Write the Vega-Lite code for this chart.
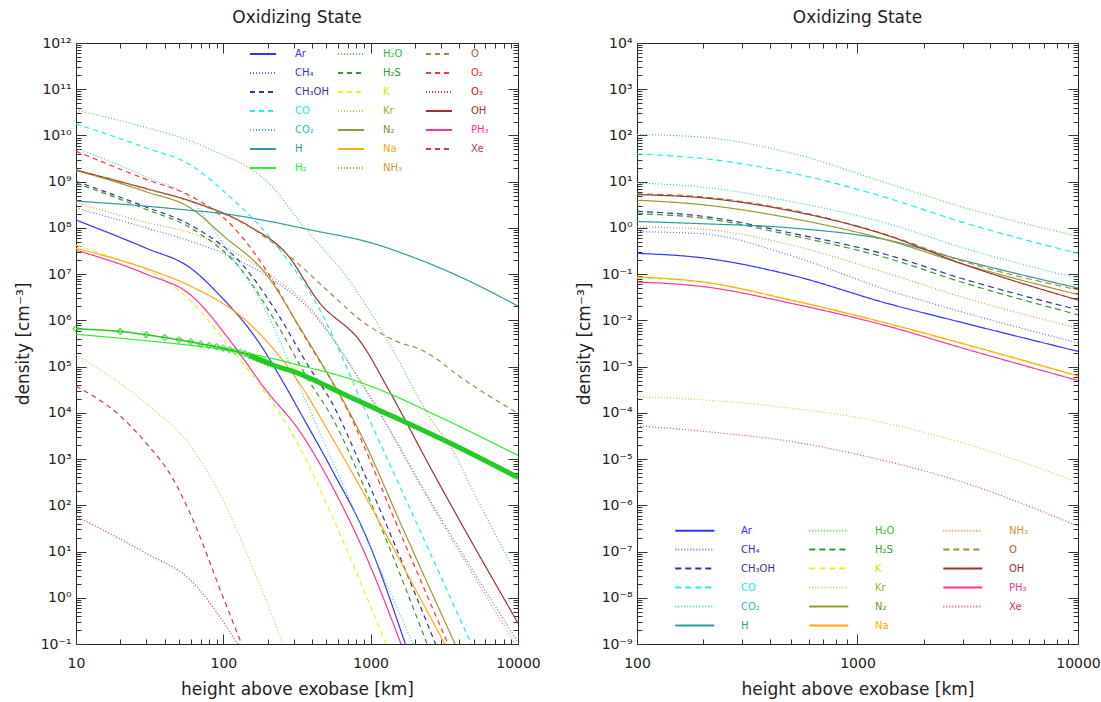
{
  "$schema": "https://vega.github.io/schema/vega-lite/v6.json",
  "background": "white",
  "padding": {"left": 13, "top": 8, "right": 5, "bottom": 5},
  "config": {
    "view": {"stroke": "#222", "strokeWidth": 1},
    "font": "DejaVu Sans",
    "axis": {"domain": false, "grid": false, "tickColor": "#333", "tickWidth": 1, "labelFont": "DejaVu Sans", "labelFontSize": 14, "labelColor": "#222", "titleFont": "DejaVu Sans", "titleFontSize": 17, "titleFontWeight": "normal", "titleColor": "#222", "labelOverlap": false, "labelFlush": false},
    "title": {"font": "DejaVu Sans", "fontSize": 17, "fontWeight": "normal", "color": "#222"}
  },
  "datasets": {
    "left": [
      {"species": "Ar", "x": 10, "y": 1.48e8}, {"species": "Ar", "x": 30, "y": 3.63e7}, {"species": "Ar", "x": 60, "y": 1.35e7}, {"species": "Ar", "x": 94, "y": 3.55e6}, {"species": "Ar", "x": 167, "y": 4.07e5}, {"species": "Ar", "x": 267, "y": 3.55e4}, {"species": "Ar", "x": 327, "y": 1.12e4}, {"species": "Ar", "x": 548, "y": 575}, {"species": "Ar", "x": 930, "y": 21.4}, {"species": "Ar", "x": 1740, "y": 0.089},
      {"species": "CH₄", "x": 10, "y": 2.69e8}, {"species": "CH₄", "x": 30, "y": 1.0e8}, {"species": "CH₄", "x": 60, "y": 5.13e7}, {"species": "CH₄", "x": 100, "y": 2.82e7}, {"species": "CH₄", "x": 200, "y": 8.91e6}, {"species": "CH₄", "x": 380, "y": 1.78e6}, {"species": "CH₄", "x": 930, "y": 3.16e4}, {"species": "CH₄", "x": 2600, "y": 110}, {"species": "CH₄", "x": 10000, "y": 0.11},
      {"species": "NH₃", "x": 10, "y": 3.47e8}, {"species": "NH₃", "x": 30, "y": 1.32e8}, {"species": "NH₃", "x": 60, "y": 7.76e7}, {"species": "NH₃", "x": 100, "y": 3.98e7}, {"species": "NH₃", "x": 200, "y": 1.05e7}, {"species": "NH₃", "x": 380, "y": 2.0e6}, {"species": "NH₃", "x": 930, "y": 3.02e4}, {"species": "NH₃", "x": 2600, "y": 100}, {"species": "NH₃", "x": 10000, "y": 0.079},
      {"species": "CH₃OH", "x": 10, "y": 1.02e9}, {"species": "CH₃OH", "x": 30, "y": 2.82e8}, {"species": "CH₃OH", "x": 60, "y": 1.15e8}, {"species": "CH₃OH", "x": 136, "y": 1.55e7}, {"species": "CH₃OH", "x": 228, "y": 1.58e6}, {"species": "CH₃OH", "x": 380, "y": 1.0e5}, {"species": "CH₃OH", "x": 548, "y": 1.62e4}, {"species": "CH₃OH", "x": 930, "y": 398}, {"species": "CH₃OH", "x": 2800, "y": 0.089},
      {"species": "H₂S", "x": 10, "y": 9.33e8}, {"species": "H₂S", "x": 30, "y": 2.51e8}, {"species": "H₂S", "x": 60, "y": 1.0e8}, {"species": "H₂S", "x": 136, "y": 1.12e7}, {"species": "H₂S", "x": 228, "y": 8.91e5}, {"species": "H₂S", "x": 380, "y": 5.01e4}, {"species": "H₂S", "x": 548, "y": 7.94e3}, {"species": "H₂S", "x": 930, "y": 200}, {"species": "H₂S", "x": 2450, "y": 0.089},
      {"species": "CO", "x": 10, "y": 1.78e10}, {"species": "CO", "x": 30, "y": 5.37e9}, {"species": "CO", "x": 60, "y": 2.29e9}, {"species": "CO", "x": 100, "y": 6.31e8}, {"species": "CO", "x": 228, "y": 4.27e7}, {"species": "CO", "x": 427, "y": 2.34e6}, {"species": "CO", "x": 1000, "y": 6.17e3}, {"species": "CO", "x": 2000, "y": 49}, {"species": "CO", "x": 4900, "y": 0.089},
      {"species": "CO₂", "x": 10, "y": 5.37e9}, {"species": "CO₂", "x": 30, "y": 1.26e9}, {"species": "CO₂", "x": 60, "y": 4.17e8}, {"species": "CO₂", "x": 104, "y": 3.63e7}, {"species": "CO₂", "x": 186, "y": 2.14e6}, {"species": "CO₂", "x": 327, "y": 3.8e4}, {"species": "CO₂", "x": 930, "y": 20.4}, {"species": "CO₂", "x": 1970, "y": 0.089},
      {"species": "O₂", "x": 10, "y": 4.57e9}, {"species": "O₂", "x": 30, "y": 1.12e9}, {"species": "O₂", "x": 60, "y": 4.9e8}, {"species": "O₂", "x": 115, "y": 1.1e8}, {"species": "O₂", "x": 195, "y": 1.23e7}, {"species": "O₂", "x": 327, "y": 7.08e5}, {"species": "O₂", "x": 713, "y": 9.77e3}, {"species": "O₂", "x": 1560, "y": 28.8}, {"species": "O₂", "x": 3400, "y": 0.089},
      {"species": "O₃", "x": 10, "y": 57.5}, {"species": "O₃", "x": 30, "y": 9.12}, {"species": "O₃", "x": 60, "y": 2.4}, {"species": "O₃", "x": 128, "y": 0.089},
      {"species": "Xe", "x": 10, "y": 3.8e4}, {"species": "Xe", "x": 20, "y": 8.51e3}, {"species": "Xe", "x": 30, "y": 2.19e3}, {"species": "Xe", "x": 45, "y": 398}, {"species": "Xe", "x": 60, "y": 63}, {"species": "Xe", "x": 100, "y": 1.0}, {"species": "Xe", "x": 135, "y": 0.089},
      {"species": "Kr", "x": 10, "y": 1.78e5}, {"species": "Kr", "x": 30, "y": 1.58e4}, {"species": "Kr", "x": 60, "y": 1.91e3}, {"species": "Kr", "x": 100, "y": 126}, {"species": "Kr", "x": 175, "y": 2.04}, {"species": "Kr", "x": 258, "y": 0.089},
      {"species": "K", "x": 10, "y": 4.27e7}, {"species": "K", "x": 20, "y": 2.0e7}, {"species": "K", "x": 30, "y": 1.26e7}, {"species": "K", "x": 60, "y": 2.63e6}, {"species": "K", "x": 115, "y": 2.24e5}, {"species": "K", "x": 195, "y": 2.63e4}, {"species": "K", "x": 327, "y": 1.91e3}, {"species": "K", "x": 548, "y": 57.5}, {"species": "K", "x": 1290, "y": 0.089},
      {"species": "Na", "x": 10, "y": 3.63e7}, {"species": "Na", "x": 30, "y": 1.32e7}, {"species": "Na", "x": 60, "y": 5.5e6}, {"species": "Na", "x": 149, "y": 8.71e5}, {"species": "Na", "x": 327, "y": 4.47e4}, {"species": "Na", "x": 548, "y": 2.88e3}, {"species": "Na", "x": 930, "y": 148}, {"species": "Na", "x": 1560, "y": 6.92}, {"species": "Na", "x": 3250, "y": 0.089},
      {"species": "PH₃", "x": 10, "y": 3.31e7}, {"species": "PH₃", "x": 30, "y": 1.0e7}, {"species": "PH₃", "x": 60, "y": 3.55e6}, {"species": "PH₃", "x": 115, "y": 3.16e5}, {"species": "PH₃", "x": 195, "y": 3.09e4}, {"species": "PH₃", "x": 327, "y": 4.17e3}, {"species": "PH₃", "x": 548, "y": 257}, {"species": "PH₃", "x": 930, "y": 7.94}, {"species": "PH₃", "x": 1630, "y": 0.089},
      {"species": "N₂", "x": 10, "y": 1.78e9}, {"species": "N₂", "x": 30, "y": 6.03e8}, {"species": "N₂", "x": 60, "y": 2.69e8}, {"species": "N₂", "x": 100, "y": 6.76e7}, {"species": "N₂", "x": 195, "y": 1.0e7}, {"species": "N₂", "x": 327, "y": 7.41e5}, {"species": "N₂", "x": 930, "y": 2.0e3}, {"species": "N₂", "x": 1560, "y": 47.9}, {"species": "N₂", "x": 3800, "y": 0.089},
      {"species": "OH", "x": 10, "y": 1.78e9}, {"species": "OH", "x": 30, "y": 7.08e8}, {"species": "OH", "x": 60, "y": 3.8e8}, {"species": "OH", "x": 149, "y": 1.1e8}, {"species": "OH", "x": 267, "y": 2.82e7}, {"species": "OH", "x": 445, "y": 2.51e6}, {"species": "OH", "x": 870, "y": 3.16e5}, {"species": "OH", "x": 1330, "y": 3.09e4}, {"species": "OH", "x": 2610, "y": 562}, {"species": "OH", "x": 10000, "y": 0.282},
      {"species": "O", "x": 10, "y": 1.74e9}, {"species": "O", "x": 30, "y": 6.92e8}, {"species": "O", "x": 60, "y": 3.72e8}, {"species": "O", "x": 149, "y": 1.07e8}, {"species": "O", "x": 267, "y": 2.82e7}, {"species": "O", "x": 548, "y": 3.55e6}, {"species": "O", "x": 900, "y": 8.91e5}, {"species": "O", "x": 1270, "y": 4.57e5}, {"species": "O", "x": 1630, "y": 3.16e5}, {"species": "O", "x": 2000, "y": 2.63e5}, {"species": "O", "x": 2610, "y": 1.7e5}, {"species": "O", "x": 4000, "y": 6.17e4}, {"species": "O", "x": 10000, "y": 9.77e3},
      {"species": "H", "x": 10, "y": 3.8e8}, {"species": "H", "x": 30, "y": 2.95e8}, {"species": "H", "x": 60, "y": 2.4e8}, {"species": "H", "x": 100, "y": 2.04e8}, {"species": "H", "x": 200, "y": 1.41e8}, {"species": "H", "x": 400, "y": 8.91e7}, {"species": "H", "x": 1000, "y": 4.79e7}, {"species": "H", "x": 2000, "y": 2.24e7}, {"species": "H", "x": 4000, "y": 8.91e6}, {"species": "H", "x": 10000, "y": 2.04e6},
      {"species": "H₂", "x": 10, "y": 5.01e5}, {"species": "H₂", "x": 30, "y": 3.63e5}, {"species": "H₂", "x": 60, "y": 2.88e5}, {"species": "H₂", "x": 100, "y": 2.34e5}, {"species": "H₂", "x": 200, "y": 1.58e5}, {"species": "H₂", "x": 327, "y": 1.07e5}, {"species": "H₂", "x": 700, "y": 5.62e4}, {"species": "H₂", "x": 1330, "y": 2.63e4}, {"species": "H₂", "x": 2610, "y": 9.77e3}, {"species": "H₂", "x": 10000, "y": 1.2e3},
      {"species": "H₂O", "x": 10, "y": 3.55e10}, {"species": "H₂O", "x": 30, "y": 1.48e10}, {"species": "H₂O", "x": 60, "y": 7.59e9}, {"species": "H₂O", "x": 84, "y": 4.79e9}, {"species": "H₂O", "x": 214, "y": 7.94e8}, {"species": "H₂O", "x": 327, "y": 1.41e8}, {"species": "H₂O", "x": 713, "y": 7.41e6}, {"species": "H₂O", "x": 1334, "y": 3.24e5}, {"species": "H₂O", "x": 2490, "y": 8.51e3}, {"species": "H₂O", "x": 3800, "y": 1.15e3}, {"species": "H₂O", "x": 4660, "y": 302}, {"species": "H₂O", "x": 10000, "y": 2.88}
    ],
    "obs": [
      {"x": 10, "y": 6.61e5}, {"x": 20, "y": 5.75e5}, {"x": 30, "y": 4.9e5}, {"x": 40, "y": 4.27e5}, {"x": 50, "y": 3.8e5}, {"x": 60, "y": 3.47e5}, {"x": 70, "y": 3.09e5}, {"x": 80, "y": 2.88e5}, {"x": 90, "y": 2.69e5}, {"x": 100, "y": 2.51e5}, {"x": 110, "y": 2.34e5}, {"x": 120, "y": 2.19e5}, {"x": 130, "y": 2.04e5}, {"x": 140, "y": 1.91e5}, {"x": 150, "y": 1.74e5}, {"x": 160, "y": 1.6e5}, {"x": 170, "y": 1.48e5}, {"x": 180, "y": 1.38e5}, {"x": 190, "y": 1.29e5}, {"x": 200, "y": 1.2e5}, {"x": 327, "y": 7.08e4}, {"x": 640, "y": 2.63e4}, {"x": 1000, "y": 1.38e4}, {"x": 1560, "y": 7.24e3}, {"x": 3650, "y": 2.04e3}, {"x": 10000, "y": 398}
    ],
    "right": [
      {"species": "Ar", "x": 100, "y": 0.282}, {"species": "Ar", "x": 200, "y": 0.224}, {"species": "Ar", "x": 500, "y": 0.0955}, {"species": "Ar", "x": 1360, "y": 0.0234}, {"species": "Ar", "x": 3000, "y": 8.91e-3}, {"species": "Ar", "x": 10000, "y": 2.14e-3},
      {"species": "CH₄", "x": 100, "y": 0.832}, {"species": "CH₄", "x": 200, "y": 0.741}, {"species": "CH₄", "x": 500, "y": 0.251}, {"species": "CH₄", "x": 1360, "y": 0.0457}, {"species": "CH₄", "x": 3000, "y": 0.0151}, {"species": "CH₄", "x": 10000, "y": 3.24e-3},
      {"species": "CH₃OH", "x": 100, "y": 2.29}, {"species": "CH₃OH", "x": 200, "y": 1.78}, {"species": "CH₃OH", "x": 500, "y": 0.776}, {"species": "CH₃OH", "x": 1360, "y": 0.263}, {"species": "CH₃OH", "x": 3000, "y": 0.0794}, {"species": "CH₃OH", "x": 10000, "y": 0.017},
      {"species": "H₂S", "x": 100, "y": 2.04}, {"species": "H₂S", "x": 200, "y": 1.62}, {"species": "H₂S", "x": 500, "y": 0.692}, {"species": "H₂S", "x": 1360, "y": 0.224}, {"species": "H₂S", "x": 3000, "y": 0.0661}, {"species": "H₂S", "x": 10000, "y": 0.0132},
      {"species": "CO", "x": 100, "y": 39.8}, {"species": "CO", "x": 200, "y": 31.6}, {"species": "CO", "x": 500, "y": 15.5}, {"species": "CO", "x": 1360, "y": 4.47}, {"species": "CO", "x": 3000, "y": 1.32}, {"species": "CO", "x": 10000, "y": 0.282},
      {"species": "CO₂", "x": 100, "y": 9.33}, {"species": "CO₂", "x": 200, "y": 7.59}, {"species": "CO₂", "x": 500, "y": 3.72}, {"species": "CO₂", "x": 1360, "y": 1.26}, {"species": "CO₂", "x": 3000, "y": 0.372}, {"species": "CO₂", "x": 10000, "y": 0.0813},
      {"species": "H", "x": 100, "y": 1.38}, {"species": "H", "x": 200, "y": 1.23}, {"species": "H", "x": 500, "y": 1.0}, {"species": "H", "x": 1360, "y": 0.55}, {"species": "H", "x": 3000, "y": 0.2}, {"species": "H", "x": 10000, "y": 0.0501},
      {"species": "H₂O", "x": 100, "y": 105}, {"species": "H₂O", "x": 200, "y": 91.2}, {"species": "H₂O", "x": 500, "y": 41.7}, {"species": "H₂O", "x": 1360, "y": 9.33}, {"species": "H₂O", "x": 3000, "y": 2.82}, {"species": "H₂O", "x": 10000, "y": 0.661},
      {"species": "K", "x": 100, "y": 0.0832}, {"species": "K", "x": 200, "y": 0.0661}, {"species": "K", "x": 500, "y": 0.0275}, {"species": "K", "x": 1360, "y": 8.51e-3}, {"species": "K", "x": 3000, "y": 3.09e-3}, {"species": "K", "x": 10000, "y": 6.17e-4},
      {"species": "Kr", "x": 100, "y": 2.24e-4}, {"species": "Kr", "x": 200, "y": 1.91e-4}, {"species": "Kr", "x": 500, "y": 1.26e-4}, {"species": "Kr", "x": 1000, "y": 7.94e-5}, {"species": "Kr", "x": 3000, "y": 2.24e-5}, {"species": "Kr", "x": 10000, "y": 3.16e-6},
      {"species": "Xe", "x": 100, "y": 5.25e-5}, {"species": "Xe", "x": 200, "y": 3.98e-5}, {"species": "Xe", "x": 500, "y": 2.4e-5}, {"species": "Xe", "x": 1000, "y": 1.26e-5}, {"species": "Xe", "x": 3000, "y": 3.16e-6}, {"species": "Xe", "x": 10000, "y": 3.55e-7},
      {"species": "N₂", "x": 100, "y": 3.98}, {"species": "N₂", "x": 200, "y": 3.16}, {"species": "N₂", "x": 500, "y": 1.62}, {"species": "N₂", "x": 1360, "y": 0.55}, {"species": "N₂", "x": 3000, "y": 0.166}, {"species": "N₂", "x": 10000, "y": 0.0363},
      {"species": "Na", "x": 100, "y": 0.0871}, {"species": "Na", "x": 200, "y": 0.0676}, {"species": "Na", "x": 500, "y": 0.0275}, {"species": "Na", "x": 1360, "y": 8.71e-3}, {"species": "Na", "x": 3000, "y": 3.16e-3}, {"species": "Na", "x": 10000, "y": 6.31e-4},
      {"species": "NH₃", "x": 100, "y": 1.05}, {"species": "NH₃", "x": 200, "y": 0.933}, {"species": "NH₃", "x": 500, "y": 0.427}, {"species": "NH₃", "x": 1360, "y": 0.105}, {"species": "NH₃", "x": 3000, "y": 0.0316}, {"species": "NH₃", "x": 10000, "y": 6.76e-3},
      {"species": "O", "x": 100, "y": 5.5}, {"species": "O", "x": 200, "y": 4.68}, {"species": "O", "x": 500, "y": 2.45}, {"species": "O", "x": 1360, "y": 0.708}, {"species": "O", "x": 3000, "y": 0.191}, {"species": "O", "x": 10000, "y": 0.0457},
      {"species": "OH", "x": 100, "y": 5.25}, {"species": "OH", "x": 200, "y": 4.47}, {"species": "OH", "x": 500, "y": 2.34}, {"species": "OH", "x": 1360, "y": 0.692}, {"species": "OH", "x": 3000, "y": 0.166}, {"species": "OH", "x": 10000, "y": 0.0275},
      {"species": "PH₃", "x": 100, "y": 0.0676}, {"species": "PH₃", "x": 200, "y": 0.0537}, {"species": "PH₃", "x": 500, "y": 0.0234}, {"species": "PH₃", "x": 1360, "y": 7.59e-3}, {"species": "PH₃", "x": 3000, "y": 2.51e-3}, {"species": "PH₃", "x": 10000, "y": 5.01e-4}
    ]
  },
  "spacing": 33,
  "hconcat": [
    {
      "width": 442,
      "height": 601,
      "title": {"text": "Oxidizing State", "offset": 9},
      "resolve": {"axis": {"x": "independent", "y": "independent"}},
      "layer": [
        {
          "data": {"name": "left"},
          "mark": {"type": "line", "strokeWidth": 1.2, "clip": true, "interpolate": "monotone"},
          "encoding": {
            "x": {"field": "x", "type": "quantitative", "scale": {"type": "log", "domain": [10, 10000], "nice": false},
              "axis": {"orient": "bottom", "values": [10, 100, 1000, 10000], "format": "d", "tickSize": -10, "labelPadding": 22, "title": "height above exobase [km]", "titlePadding": 11}},
            "y": {"field": "y", "type": "quantitative", "scale": {"type": "log", "domain": [0.1, 1e12], "nice": false},
              "axis": {"orient": "left", "values": [0.1, 1, 10, 100, 1000, 1e4, 1e5, 1e6, 1e7, 1e8, 1e9, 1e10, 1e11, 1e12], "tickSize": -10, "labelPadding": 15, "title": "density [cm⁻³]", "titlePadding": 8,
                "labelExpr": "'10' + (datum.value < 1 ? '⁻' : '') + (abs(round(log(datum.value)/LN10)) >= 10 ? '¹' : '') + substring('⁰¹²³⁴⁵⁶⁷⁸⁹', abs(round(log(datum.value)/LN10)) % 10, abs(round(log(datum.value)/LN10)) % 10 + 1)"}},
            "color": {"field": "species", "type": "nominal",
              "scale": {"domain": ["Ar", "CH₄", "CH₃OH", "CO", "CO₂", "H", "H₂", "H₂O", "H₂S", "K", "Kr", "N₂", "Na", "NH₃", "O", "O₂", "O₃", "OH", "PH₃", "Xe"],
                "range": ["#3333ff", "#6a6aee", "#333399", "#22eeee", "#33cccc", "#339999", "#33ee33", "#55cc55", "#339933", "#eeee22", "#cccc44", "#999933", "#ffaa11", "#cc9944", "#aa8844", "#ff3333", "#dd3333", "#993333", "#ff3399", "#cc3377"]},
              "legend": {"title": null, "orient": "none", "legendX": 173, "legendY": -3, "columns": 3, "gridAlign": "all", "padding": 0, "symbolType": "stroke", "symbolSize": 676, "symbolStrokeWidth": 2, "labelFont": "DejaVu Sans", "labelFontSize": 10, "labelOffset": 18, "columnPadding": 5, "rowPadding": 0, "labelLimit": 0,
                "encode": {"labels": {"update": {"fill": {"signal": "datum.value==='Ar'?'#3333ff':datum.value==='CH₄'?'#3333cc':datum.value==='CH₃OH'?'#333399':datum.value==='CO'?'#11eeee':datum.value==='CO₂'?'#33bbbb':datum.value==='H'?'#339999':datum.value==='H₂'?'#22ee22':datum.value==='H₂O'?'#33bb33':datum.value==='H₂S'?'#339933':datum.value==='K'?'#dddd00':datum.value==='Kr'?'#aaaa22':datum.value==='N₂'?'#888822':datum.value==='Na'?'#ffaa00':datum.value==='NH₃'?'#cc9933':datum.value==='O'?'#996633':datum.value==='O₂'?'#ff2222':datum.value==='O₃'?'#cc2222':datum.value==='OH'?'#993333':datum.value==='PH₃'?'#ff3399':'#cc3366'"}}}}}},
            "strokeDash": {"field": "species", "type": "nominal",
              "scale": {"domain": ["Ar", "CH₄", "CH₃OH", "CO", "CO₂", "H", "H₂", "H₂O", "H₂S", "K", "Kr", "N₂", "Na", "NH₃", "O", "O₂", "O₃", "OH", "PH₃", "Xe"],
                "range": [[1, 0], [1, 2], [5, 4], [5, 4], [1, 2], [1, 0], [1, 0], [1, 2], [5, 4], [5, 4], [1, 2], [1, 0], [1, 0], [1, 2], [5, 4], [5, 4], [1, 2], [1, 0], [1, 0], [5, 4]]},
              "legend": {"title": null, "orient": "none", "legendX": 173, "legendY": -3, "columns": 3, "gridAlign": "all", "padding": 0, "symbolType": "stroke", "symbolSize": 676, "symbolStrokeWidth": 2, "labelFont": "DejaVu Sans", "labelFontSize": 10, "labelOffset": 18, "columnPadding": 5, "rowPadding": 0, "labelLimit": 0}}
          }
        },
        {
          "data": {"name": "obs"},
          "mark": {"type": "line", "color": "#22cc22", "strokeWidth": 1.6, "clip": true, "interpolate": "monotone"},
          "encoding": {
            "x": {"field": "x", "type": "quantitative", "axis": {"orient": "bottom", "values": [20, 30, 40, 50, 60, 70, 80, 90, 200, 300, 400, 500, 600, 700, 800, 900, 2000, 3000, 4000, 5000, 6000, 7000, 8000, 9000], "tickSize": -5, "labels": false, "title": null}},
            "y": {"field": "y", "type": "quantitative", "axis": {"orient": "left", "values": [0.2, 0.3, 0.4, 0.5, 0.6, 0.7, 0.8, 0.9, 2, 3, 4, 5, 6, 7, 8, 9, 20, 30, 40, 50, 60, 70, 80, 90, 200, 300, 400, 500, 600, 700, 800, 900, 2000, 3000, 4000, 5000, 6000, 7000, 8000, 9000, 2e4, 3e4, 4e4, 5e4, 6e4, 7e4, 8e4, 9e4, 2e5, 3e5, 4e5, 5e5, 6e5, 7e5, 8e5, 9e5, 2e6, 3e6, 4e6, 5e6, 6e6, 7e6, 8e6, 9e6, 2e7, 3e7, 4e7, 5e7, 6e7, 7e7, 8e7, 9e7, 2e8, 3e8, 4e8, 5e8, 6e8, 7e8, 8e8, 9e8, 2e9, 3e9, 4e9, 5e9, 6e9, 7e9, 8e9, 9e9, 2e10, 3e10, 4e10, 5e10, 6e10, 7e10, 8e10, 9e10, 2e11, 3e11, 4e11, 5e11, 6e11, 7e11, 8e11, 9e11], "tickSize": -5, "labels": false, "title": null}}
          }
        },
        {
          "data": {"name": "obs"},
          "transform": [{"filter": "datum.x >= 150"}],
          "mark": {"type": "line", "color": "#22cc22", "strokeWidth": 5, "clip": true, "interpolate": "monotone"},
          "encoding": {
            "x": {"field": "x", "type": "quantitative", "axis": {"orient": "top", "values": [10, 100, 1000, 10000], "tickSize": -10, "labels": false, "title": null}},
            "y": {"field": "y", "type": "quantitative", "axis": {"orient": "right", "values": [0.1, 1, 10, 100, 1000, 1e4, 1e5, 1e6, 1e7, 1e8, 1e9, 1e10, 1e11, 1e12], "tickSize": -10, "labels": false, "title": null}}
          }
        },
        {
          "data": {"name": "obs"},
          "transform": [{"filter": "datum.x <= 200"}],
          "mark": {"type": "point", "shape": "diamond", "size": 36, "filled": false, "color": "#22cc22", "strokeWidth": 1.3},
          "encoding": {
            "x": {"field": "x", "type": "quantitative", "axis": {"orient": "top", "values": [20, 30, 40, 50, 60, 70, 80, 90, 200, 300, 400, 500, 600, 700, 800, 900, 2000, 3000, 4000, 5000, 6000, 7000, 8000, 9000], "tickSize": -5, "labels": false, "title": null}},
            "y": {"field": "y", "type": "quantitative", "axis": {"orient": "right", "values": [0.2, 0.3, 0.4, 0.5, 0.6, 0.7, 0.8, 0.9, 2, 3, 4, 5, 6, 7, 8, 9, 20, 30, 40, 50, 60, 70, 80, 90, 200, 300, 400, 500, 600, 700, 800, 900, 2000, 3000, 4000, 5000, 6000, 7000, 8000, 9000, 2e4, 3e4, 4e4, 5e4, 6e4, 7e4, 8e4, 9e4, 2e5, 3e5, 4e5, 5e5, 6e5, 7e5, 8e5, 9e5, 2e6, 3e6, 4e6, 5e6, 6e6, 7e6, 8e6, 9e6, 2e7, 3e7, 4e7, 5e7, 6e7, 7e7, 8e7, 9e7, 2e8, 3e8, 4e8, 5e8, 6e8, 7e8, 8e8, 9e8, 2e9, 3e9, 4e9, 5e9, 6e9, 7e9, 8e9, 9e9, 2e10, 3e10, 4e10, 5e10, 6e10, 7e10, 8e10, 9e10, 2e11, 3e11, 4e11, 5e11, 6e11, 7e11, 8e11, 9e11], "tickSize": -5, "labels": false, "title": null}}
          }
        }
      ]
    },
    {
      "width": 441,
      "height": 601,
      "title": {"text": "Oxidizing State", "offset": 9},
      "resolve": {"axis": {"x": "independent", "y": "independent"}},
      "layer": [
        {
          "data": {"name": "right"},
          "mark": {"type": "line", "strokeWidth": 1.2, "clip": true, "interpolate": "monotone"},
          "encoding": {
            "x": {"field": "x", "type": "quantitative", "scale": {"type": "log", "domain": [100, 10000], "nice": false},
              "axis": {"orient": "bottom", "values": [100, 1000, 10000], "format": "d", "tickSize": -10, "labelPadding": 22, "title": "height above exobase [km]", "titlePadding": 11}},
            "y": {"field": "y", "type": "quantitative", "scale": {"type": "log", "domain": [1e-9, 1e4], "nice": false},
              "axis": {"orient": "left", "values": [1e-9, 1e-8, 1e-7, 1e-6, 1e-5, 1e-4, 1e-3, 0.01, 0.1, 1, 10, 100, 1000, 1e4], "tickSize": -10, "labelPadding": 15, "title": "density [cm⁻³]", "titlePadding": 8,
                "labelExpr": "'10' + (datum.value < 1 ? '⁻' : '') + (abs(round(log(datum.value)/LN10)) >= 10 ? '¹' : '') + substring('⁰¹²³⁴⁵⁶⁷⁸⁹', abs(round(log(datum.value)/LN10)) % 10, abs(round(log(datum.value)/LN10)) % 10 + 1)"}},
            "color": {"field": "species", "type": "nominal",
              "scale": {"domain": ["Ar", "CH₄", "CH₃OH", "CO", "CO₂", "H", "H₂O", "H₂S", "K", "Kr", "N₂", "Na", "NH₃", "O", "OH", "PH₃", "Xe"],
                "range": ["#3333ff", "#6a6aee", "#333399", "#22eeee", "#33cccc", "#339999", "#55cc55", "#339933", "#eeee22", "#cccc44", "#999933", "#ffaa11", "#cc9944", "#aa8844", "#993333", "#ff3399", "#dd4499"]},
              "legend": {"title": null, "orient": "none", "legendX": 37, "legendY": 474, "columns": 3, "gridAlign": "all", "padding": 0, "symbolType": "M-1,0H2.2", "symbolSize": 595, "symbolStrokeWidth": 2.2, "labelFont": "DejaVu Sans", "labelFontSize": 10, "labelOffset": 40, "columnPadding": 29, "rowPadding": 0, "labelLimit": 0,
                "encode": {"labels": {"update": {"fill": {"signal": "datum.value==='Ar'?'#3333ff':datum.value==='CH₄'?'#3333cc':datum.value==='CH₃OH'?'#333399':datum.value==='CO'?'#11eeee':datum.value==='CO₂'?'#33bbbb':datum.value==='H'?'#339999':datum.value==='H₂'?'#22ee22':datum.value==='H₂O'?'#33bb33':datum.value==='H₂S'?'#339933':datum.value==='K'?'#dddd00':datum.value==='Kr'?'#aaaa22':datum.value==='N₂'?'#888822':datum.value==='Na'?'#ffaa00':datum.value==='NH₃'?'#cc9933':datum.value==='O'?'#996633':datum.value==='O₂'?'#ff2222':datum.value==='O₃'?'#cc2222':datum.value==='OH'?'#993333':datum.value==='PH₃'?'#ff3399':'#cc3366'"}}}}}},
            "strokeDash": {"field": "species", "type": "nominal",
              "scale": {"domain": ["Ar", "CH₄", "CH₃OH", "CO", "CO₂", "H", "H₂O", "H₂S", "K", "Kr", "N₂", "Na", "NH₃", "O", "OH", "PH₃", "Xe"],
                "range": [[1, 0], [1, 2], [6, 4], [6, 4], [1, 2], [1, 0], [1, 2], [6, 4], [6, 4], [1, 2], [1, 0], [1, 0], [1, 2], [6, 4], [1, 0], [1, 0], [1, 2]]},
              "legend": {"title": null, "orient": "none", "legendX": 37, "legendY": 474, "columns": 3, "gridAlign": "all", "padding": 0, "symbolType": "M-1,0H2.2", "symbolSize": 595, "symbolStrokeWidth": 2.2, "labelFont": "DejaVu Sans", "labelFontSize": 10, "labelOffset": 40, "columnPadding": 29, "rowPadding": 0, "labelLimit": 0}}
          }
        },
        {
          "data": {"name": "right"},
          "mark": {"type": "point", "opacity": 0},
          "encoding": {
            "x": {"field": "x", "type": "quantitative", "axis": {"orient": "bottom", "values": [200, 300, 400, 500, 600, 700, 800, 900, 2000, 3000, 4000, 5000, 6000, 7000, 8000, 9000], "tickSize": -5, "labels": false, "title": null}},
            "y": {"field": "y", "type": "quantitative", "axis": {"orient": "left", "values": [2e-9, 3e-9, 4e-9, 5e-9, 6e-9, 7e-9, 8e-9, 9e-9, 2e-8, 3e-8, 4e-8, 5e-8, 6e-8, 7e-8, 8e-8, 9e-8, 2e-7, 3e-7, 4e-7, 5e-7, 6e-7, 7e-7, 8e-7, 9e-7, 2e-6, 3e-6, 4e-6, 5e-6, 6e-6, 7e-6, 8e-6, 9e-6, 2e-5, 3e-5, 4e-5, 5e-5, 6e-5, 7e-5, 8e-5, 9e-5, 2e-4, 3e-4, 4e-4, 5e-4, 6e-4, 7e-4, 8e-4, 9e-4, 0.002, 0.003, 0.004, 0.005, 0.006, 0.007, 0.008, 0.009, 0.02, 0.03, 0.04, 0.05, 0.06, 0.07, 0.08, 0.09, 0.2, 0.3, 0.4, 0.5, 0.6, 0.7, 0.8, 0.9, 2, 3, 4, 5, 6, 7, 8, 9, 20, 30, 40, 50, 60, 70, 80, 90, 200, 300, 400, 500, 600, 700, 800, 900, 2000, 3000, 4000, 5000, 6000, 7000, 8000, 9000], "tickSize": -5, "labels": false, "title": null}}
          }
        },
        {
          "data": {"name": "right"},
          "mark": {"type": "point", "opacity": 0},
          "encoding": {
            "x": {"field": "x", "type": "quantitative", "axis": {"orient": "top", "values": [100, 1000, 10000], "tickSize": -10, "labels": false, "title": null}},
            "y": {"field": "y", "type": "quantitative", "axis": {"orient": "right", "values": [1e-9, 1e-8, 1e-7, 1e-6, 1e-5, 1e-4, 1e-3, 0.01, 0.1, 1, 10, 100, 1000, 1e4], "tickSize": -10, "labels": false, "title": null}}
          }
        },
        {
          "data": {"name": "right"},
          "mark": {"type": "point", "opacity": 0},
          "encoding": {
            "x": {"field": "x", "type": "quantitative", "axis": {"orient": "top", "values": [200, 300, 400, 500, 600, 700, 800, 900, 2000, 3000, 4000, 5000, 6000, 7000, 8000, 9000], "tickSize": -5, "labels": false, "title": null}},
            "y": {"field": "y", "type": "quantitative", "axis": {"orient": "right", "values": [2e-9, 3e-9, 4e-9, 5e-9, 6e-9, 7e-9, 8e-9, 9e-9, 2e-8, 3e-8, 4e-8, 5e-8, 6e-8, 7e-8, 8e-8, 9e-8, 2e-7, 3e-7, 4e-7, 5e-7, 6e-7, 7e-7, 8e-7, 9e-7, 2e-6, 3e-6, 4e-6, 5e-6, 6e-6, 7e-6, 8e-6, 9e-6, 2e-5, 3e-5, 4e-5, 5e-5, 6e-5, 7e-5, 8e-5, 9e-5, 2e-4, 3e-4, 4e-4, 5e-4, 6e-4, 7e-4, 8e-4, 9e-4, 0.002, 0.003, 0.004, 0.005, 0.006, 0.007, 0.008, 0.009, 0.02, 0.03, 0.04, 0.05, 0.06, 0.07, 0.08, 0.09, 0.2, 0.3, 0.4, 0.5, 0.6, 0.7, 0.8, 0.9, 2, 3, 4, 5, 6, 7, 8, 9, 20, 30, 40, 50, 60, 70, 80, 90, 200, 300, 400, 500, 600, 700, 800, 900, 2000, 3000, 4000, 5000, 6000, 7000, 8000, 9000], "tickSize": -5, "labels": false, "title": null}}
          }
        }
      ]
    }
  ],
  "resolve": {"scale": {"x": "independent", "y": "independent", "color": "independent", "strokeDash": "independent"}, "legend": {"color": "independent", "strokeDash": "independent"}}
}
